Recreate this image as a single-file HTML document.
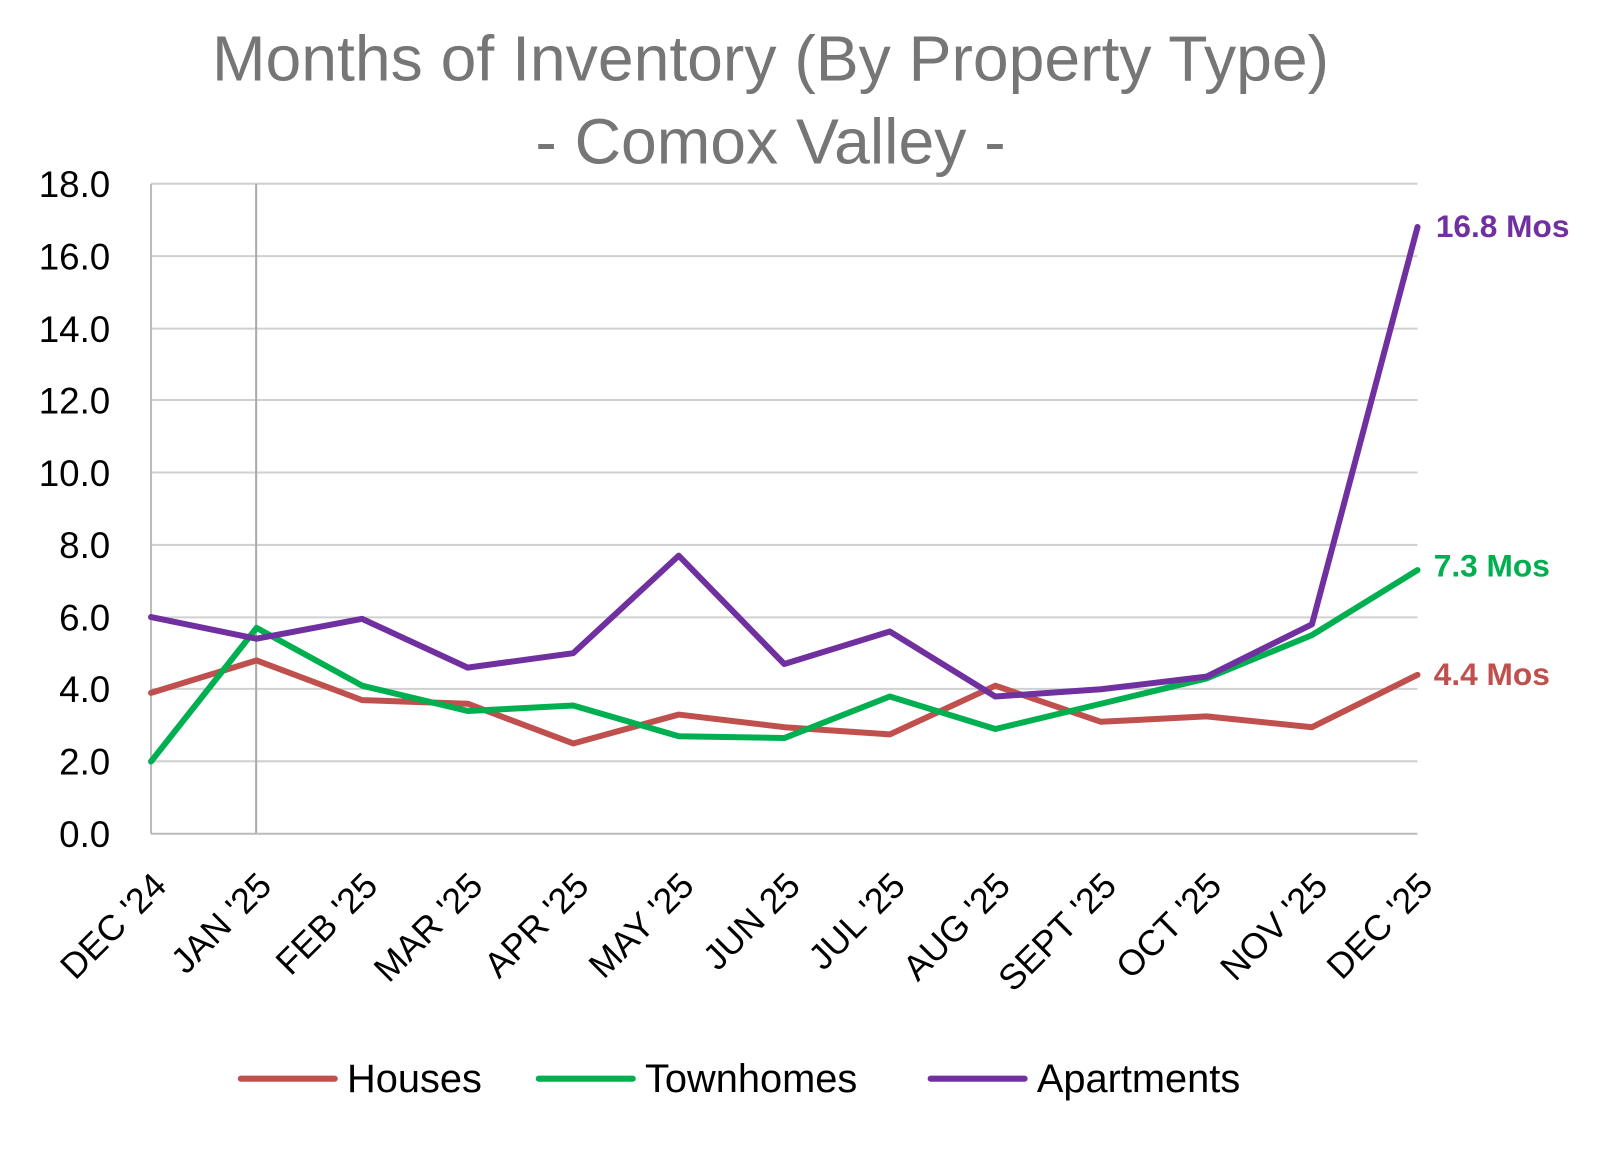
<!DOCTYPE html>
<html><head><meta charset="utf-8"><style>
html,body{margin:0;padding:0;background:#fff;}
svg{display:block;}
</style></head><body>
<svg width="1600" height="1152" xmlns="http://www.w3.org/2000/svg" font-family="Liberation Sans, DejaVu Sans, sans-serif">
<rect width="1600" height="1152" fill="#fff"/>
<g transform="scale(1.0205)">
<text x="755" y="79" text-anchor="middle" font-size="63" fill="#767676">Months of Inventory (By Property Type)</text>
<text x="755" y="160" text-anchor="middle" font-size="63" fill="#767676">- Comox Valley -</text>
<g stroke="#d0d0d0" stroke-width="2">
<line x1="148" y1="180" x2="1389" y2="180"/>
<line x1="148" y1="251" x2="1389" y2="251"/>
<line x1="148" y1="322" x2="1389" y2="322"/>
<line x1="148" y1="392" x2="1389" y2="392"/>
<line x1="148" y1="463" x2="1389" y2="463"/>
<line x1="148" y1="534" x2="1389" y2="534"/>
<line x1="148" y1="605" x2="1389" y2="605"/>
<line x1="148" y1="675" x2="1389" y2="675"/>
<line x1="148" y1="746" x2="1389" y2="746"/>
</g>
<line x1="148" y1="180" x2="148" y2="817" stroke="#bbb" stroke-width="2"/>
<line x1="251" y1="180" x2="251" y2="817" stroke="#aaa" stroke-width="2"/>
<line x1="148" y1="817" x2="1389" y2="817" stroke="#bbb" stroke-width="2"/>
<g font-size="36" fill="#000" text-anchor="end">
<text x="108" y="193">18.0</text>
<text x="108" y="264">16.0</text>
<text x="108" y="335">14.0</text>
<text x="108" y="405">12.0</text>
<text x="108" y="476">10.0</text>
<text x="108" y="547">8.0</text>
<text x="108" y="618">6.0</text>
<text x="108" y="688">4.0</text>
<text x="108" y="759">2.0</text>
<text x="108" y="830">0.0</text>
</g>
<g font-size="35" fill="#000" text-anchor="end">
<text transform="translate(165,870) rotate(-45)">DEC '24</text>
<text transform="translate(268,870) rotate(-45)">JAN '25</text>
<text transform="translate(372,870) rotate(-45)">FEB '25</text>
<text transform="translate(475,870) rotate(-45)">MAR '25</text>
<text transform="translate(579,870) rotate(-45)">APR '25</text>
<text transform="translate(682,870) rotate(-45)">MAY '25</text>
<text transform="translate(786,870) rotate(-45)">JUN 25</text>
<text transform="translate(889,870) rotate(-45)">JUL '25</text>
<text transform="translate(992,870) rotate(-45)">AUG '25</text>
<text transform="translate(1096,870) rotate(-45)">SEPT '25</text>
<text transform="translate(1199,870) rotate(-45)">OCT '25</text>
<text transform="translate(1303,870) rotate(-45)">NOV '25</text>
<text transform="translate(1406,870) rotate(-45)">DEC '25</text>
</g>
<g fill="none" stroke-width="6" stroke-linejoin="round" stroke-linecap="round" transform="translate(148,817) scale(103.42,-35.39)">
<polyline vector-effect="non-scaling-stroke" stroke="#c0504d" points="0,3.9 1,4.8 2,3.7 3,3.6 4,2.5 5,3.3 6,2.95 7,2.75 8,4.1 9,3.1 10,3.25 11,2.95 12,4.4"/>
<polyline vector-effect="non-scaling-stroke" stroke="#00b050" points="0,2.0 1,5.7 2,4.1 3,3.4 4,3.55 5,2.7 6,2.65 7,3.8 8,2.9 9,3.6 10,4.3 11,5.5 12,7.3"/>
<polyline vector-effect="non-scaling-stroke" stroke="#7030a0" points="0,6.0 1,5.4 2,5.95 3,4.6 4,5.0 5,7.7 6,4.7 7,5.6 8,3.8 9,4.0 10,4.35 11,5.8 12,16.8"/>
</g>
<g font-size="31" font-weight="bold">
<text x="1407" y="232" fill="#7030a0">16.8 Mos</text>
<text x="1405" y="565" fill="#00b050">7.3 Mos</text>
<text x="1405" y="671" fill="#c0504d">4.4 Mos</text>
</g>
<g stroke-width="6" stroke-linecap="round">
<line x1="236" y1="1057" x2="328" y2="1057" stroke="#c0504d"/>
<line x1="528" y1="1057" x2="620" y2="1057" stroke="#00b050"/>
<line x1="912" y1="1057" x2="1004" y2="1057" stroke="#7030a0"/>
</g>
<g font-size="39" fill="#000">
<text x="340" y="1070">Houses</text>
<text x="632" y="1070">Townhomes</text>
<text x="1016" y="1070">Apartments</text>
</g>
</g>
</svg>
</body></html>
